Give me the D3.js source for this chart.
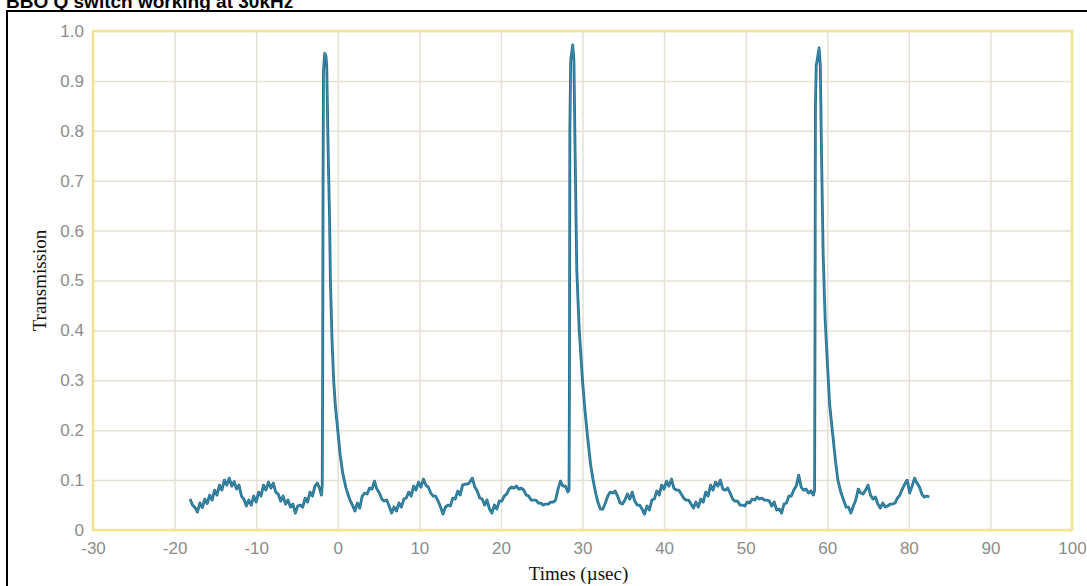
<!DOCTYPE html>
<html>
<head>
<meta charset="utf-8">
<script src="https://cdn.jsdelivr.net/npm/d3@7"></script>
<style>
  html, body { margin: 0; padding: 0; background: #fff; }
  svg { display: block; }
</style>
</head>
<body>
<svg id="chart" width="1087" height="586"></svg>
<script>
// tick labels as printed on the original (note the "80" where 70 would be)
const xTicks = [-30, -20, -10, 0, 10, 20, 30, 40, 50, 60, 70, 80, 90];
const xTickLabels = ['-30', '-20', '-10', '0', '10', '20', '30', '40', '50', '60', '80', '90', '100'];
const yTicks = [0, 0.1, 0.2, 0.3, 0.4, 0.5, 0.6, 0.7, 0.8, 0.9, 1.0];
const yTickLabels = ['0', '0.1', '0.2', '0.3', '0.4', '0.5', '0.6', '0.7', '0.8', '0.9', '1.0'];

// [time (usec), transmission]
const baseA = [[-18.1,0.062],[-17.8,0.050],[-17.5,0.045],[-17.2,0.036],[-16.9,0.054],[-16.6,0.045],[-16.3,0.062],[-16.0,0.053],
  [-15.7,0.070],[-15.4,0.060],[-15.1,0.080],[-14.8,0.070],[-14.5,0.090],[-14.2,0.080],[-13.9,0.100],[-13.6,0.090],[-13.3,0.104],
  [-13.0,0.088],[-12.7,0.097],[-12.4,0.082],[-12.1,0.090],[-11.8,0.068],[-11.5,0.062],[-11.2,0.048],[-10.9,0.060],[-10.6,0.050],
  [-10.3,0.068],[-10.0,0.056],[-9.7,0.076],[-9.4,0.068],[-9.1,0.090],[-8.8,0.080],[-8.5,0.096],[-8.2,0.084],[-7.9,0.094],
  [-7.6,0.076],[-7.3,0.072],[-7.0,0.058],[-6.7,0.068],[-6.4,0.052],[-6.1,0.060],[-5.8,0.046],[-5.5,0.052],[-5.2,0.034],
  [-4.9,0.048],[-4.6,0.050],[-4.3,0.046],[-4.0,0.064],[-3.7,0.056],[-3.4,0.076],[-3.1,0.068],[-2.8,0.088],[-2.5,0.094],
  [-2.2,0.082],[-2.0,0.070],[-1.9,0.090]];
const peak1 = [[-1.85,0.30],[-1.8,0.70],[-1.75,0.92],[-1.6,0.955],[-1.45,0.95],[-1.35,0.93],[-1.2,0.78],[-1.0,0.62],
  [-0.9,0.50],[-0.7,0.38],[-0.5,0.30],[-0.3,0.25],[0.0,0.20],[0.3,0.15],[0.6,0.115],[0.8,0.10],[1.0,0.085]];
const baseB = [[1.2,0.074],[1.5,0.060],[1.8,0.050],[2.1,0.038],[2.4,0.054],[2.7,0.044],[3.0,0.068],[3.3,0.074],[3.6,0.072],
  [3.9,0.084],[4.2,0.082],[4.5,0.098],[4.8,0.082],[5.1,0.074],[5.4,0.062],[5.7,0.058],[6.0,0.060],[6.3,0.048],[6.6,0.034],
  [6.9,0.046],[7.2,0.038],[7.5,0.054],[7.8,0.046],[8.1,0.062],[8.4,0.064],[8.7,0.076],[9.0,0.068],[9.3,0.088],[9.6,0.080],
  [9.9,0.096],[10.2,0.086],[10.5,0.102],[10.8,0.090],[11.1,0.086],[11.4,0.074],[11.7,0.068],[12.0,0.068],[12.3,0.058],
  [12.6,0.046],[12.9,0.032],[13.2,0.046],[13.5,0.050],[13.8,0.048],[14.1,0.064],[14.4,0.062],[14.7,0.078],[15.0,0.070],
  [15.3,0.090],[15.6,0.092],[15.9,0.092],[16.2,0.096],[16.5,0.104],[16.8,0.086],[17.1,0.078],[17.4,0.064],[17.7,0.062],
  [18.0,0.050],[18.3,0.060],[18.6,0.042],[18.9,0.034],[19.2,0.050],[19.5,0.042],[19.8,0.058],[20.1,0.058],[20.4,0.068],
  [20.7,0.072],[21.0,0.082],[21.3,0.086],[21.6,0.084],[21.9,0.088],[22.2,0.082],[22.5,0.084],[22.8,0.080],[23.1,0.070],
  [23.4,0.068],[23.7,0.060],[24.0,0.060],[24.3,0.060],[24.6,0.054],[24.9,0.054],[25.2,0.050],[25.5,0.052],[25.8,0.052],
  [26.1,0.056],[26.4,0.056],[26.7,0.060],[27.0,0.082],[27.3,0.098],[27.6,0.088],[27.9,0.088],[28.2,0.076],[28.35,0.080]];
const peak2 = [[28.4,0.30],[28.45,0.80],[28.55,0.94],[28.8,0.972],[28.95,0.94],[29.1,0.75],[29.3,0.52],[29.6,0.40],
  [30.0,0.30],[30.3,0.24],[30.6,0.19],[31.0,0.13],[31.3,0.10],[31.6,0.075]];
const baseC = [[31.9,0.055],[32.2,0.042],[32.5,0.042],[32.8,0.054],[33.1,0.068],[33.4,0.076],[33.7,0.074],[34.0,0.078],
  [34.3,0.068],[34.6,0.054],[34.9,0.052],[35.2,0.060],[35.5,0.072],[35.8,0.062],[36.1,0.076],[36.4,0.058],[36.7,0.050],
  [37.0,0.050],[37.3,0.042],[37.6,0.032],[37.9,0.048],[38.2,0.040],[38.5,0.060],[38.8,0.062],[39.1,0.078],[39.4,0.070],
  [39.7,0.090],[40.0,0.082],[40.3,0.098],[40.6,0.088],[40.9,0.102],[41.2,0.084],[41.5,0.080],[41.8,0.080],[42.1,0.072],
  [42.4,0.064],[42.7,0.060],[43.0,0.060],[43.3,0.052],[43.6,0.044],[43.9,0.056],[44.2,0.046],[44.5,0.062],[44.8,0.056],
  [45.1,0.076],[45.4,0.068],[45.7,0.090],[46.0,0.080],[46.3,0.096],[46.6,0.088],[46.9,0.100],[47.2,0.082],[47.5,0.080],
  [47.8,0.084],[48.1,0.074],[48.4,0.062],[48.7,0.058],[49.0,0.058],[49.3,0.050],[49.6,0.050],[49.9,0.048],[50.2,0.056],
  [50.5,0.054],[50.8,0.062],[51.1,0.060],[51.4,0.066],[51.7,0.062],[52.0,0.064],[52.3,0.060],[52.6,0.060],[52.9,0.058],
  [53.2,0.048],[53.5,0.056],[53.8,0.040],[54.1,0.042],[54.4,0.034],[54.7,0.052],[55.0,0.054],[55.3,0.068],[55.6,0.068],
  [55.9,0.080],[56.2,0.088],[56.5,0.110],[56.8,0.086],[57.1,0.080],[57.4,0.082],[57.7,0.074],[58.0,0.078],[58.3,0.070],
  [58.45,0.080]];
const peak3 = [[58.5,0.40],[58.55,0.85],[58.65,0.93],[59.0,0.966],[59.15,0.93],[59.3,0.75],[59.5,0.55],[59.75,0.42],
  [60.0,0.34],[60.3,0.25],[60.7,0.187],[61.0,0.14],[61.3,0.10],[61.7,0.074]];
const baseD = [[62.0,0.060],[62.3,0.046],[62.6,0.046],[62.9,0.034],[63.2,0.048],[63.5,0.060],[63.8,0.082],[64.1,0.074],
  [64.4,0.072],[64.7,0.080],[65.0,0.090],[65.3,0.070],[65.6,0.062],[65.9,0.066],[66.2,0.052],[66.5,0.044],[66.8,0.054],
  [67.1,0.046],[67.4,0.048],[67.7,0.052],[68.0,0.052],[68.3,0.054],[68.6,0.064],[68.9,0.070],[69.2,0.082],[69.5,0.092],
  [69.8,0.100],[70.1,0.074],[70.4,0.088],[70.7,0.104],[71.0,0.094],[71.3,0.086],[71.6,0.072],[71.9,0.066],[72.2,0.068],
  [72.5,0.066]];

const trace = [].concat(baseA, peak1, baseB, peak2, baseC, peak3, baseD);

const svg = d3.select('#chart');

// page frame from the original screenshot
svg.append('line').attr('x1', 7).attr('y1', 11).attr('x2', 1087).attr('y2', 11)
  .attr('stroke', '#000').attr('stroke-width', 2);
svg.append('line').attr('x1', 7).attr('y1', 10).attr('x2', 7).attr('y2', 586)
  .attr('stroke', '#000').attr('stroke-width', 2);

svg.append('text')
  .attr('x', 6).attr('y', 8)
  .attr('font-family', 'Liberation Sans, Arial, sans-serif')
  .attr('font-weight', 'bold')
  .attr('font-size', 19)
  .attr('fill', '#000')
  .text('BBO Q switch working at 30kHz');

const margin = {left: 93, top: 31, right: 1087 - 1072, bottom: 586 - 530};
const width = 1087 - margin.left - margin.right;
const height = 586 - margin.top - margin.bottom;

const x = d3.scaleLinear().domain([-30, 90]).range([0, width]);
const y = d3.scaleLinear().domain([0, 1]).range([height, 0]);

const g = svg.append('g').attr('transform', 'translate(' + margin.left + ',' + margin.top + ')');

// grid
g.append('g')
  .attr('class', 'xgrid')
  .attr('transform', 'translate(0,' + height + ')')
  .call(d3.axisBottom(x).tickValues(xTicks).tickSize(-height).tickFormat(''))
  .call(a => a.select('.domain').remove())
  .call(a => a.selectAll('line').attr('stroke', '#e6e1d5').attr('stroke-width', 1.5));

g.append('g')
  .attr('class', 'ygrid')
  .call(d3.axisLeft(y).tickValues(yTicks).tickSize(-width).tickFormat(''))
  .call(a => a.select('.domain').remove())
  .call(a => a.selectAll('line').attr('stroke', '#e6e1d5').attr('stroke-width', 1.5));

// plot frame
g.append('rect')
  .attr('x', 0).attr('y', 0).attr('width', width).attr('height', height)
  .attr('fill', 'none').attr('stroke', '#f2e38e').attr('stroke-width', 2.5);

// tick labels
g.append('g')
  .attr('transform', 'translate(0,' + height + ')')
  .call(d3.axisBottom(x).tickValues(xTicks).tickSize(0).tickPadding(12)
    .tickFormat((d, i) => xTickLabels[i]))
  .call(a => a.select('.domain').remove())
  .call(a => a.selectAll('text').attr('fill', '#8c8c8c')
    .attr('font-family', 'Liberation Sans, Arial, sans-serif').attr('font-size', 17));

g.append('g')
  .call(d3.axisLeft(y).tickValues(yTicks).tickSize(0).tickPadding(9)
    .tickFormat((d, i) => yTickLabels[i]))
  .call(a => a.select('.domain').remove())
  .call(a => a.selectAll('text').attr('fill', '#8c8c8c')
    .attr('font-family', 'Liberation Sans, Arial, sans-serif').attr('font-size', 17));

// trace
const line = d3.line()
  .x(d => x(d[0]))
  .y(d => y(d[1]));

g.append('path')
  .datum(trace)
  .attr('fill', 'none')
  .attr('stroke', '#1f6f8f')
  .attr('stroke-width', 2.8)
  .attr('stroke-linejoin', 'round')
  .attr('d', line);

g.append('path')
  .datum(trace)
  .attr('fill', 'none')
  .attr('stroke', '#6aaec6')
  .attr('stroke-width', 0.7)
  .attr('stroke-opacity', 0.7)
  .attr('d', line);

// axis titles
svg.append('text')
  .attr('transform', 'translate(46,' + (margin.top + height / 2) + ') rotate(-90)')
  .attr('text-anchor', 'middle')
  .attr('font-family', 'Liberation Serif, Times New Roman, serif')
  .attr('font-size', 19)
  .attr('fill', '#111')
  .text('Transmission');

svg.append('text')
  .attr('x', margin.left + width / 2 - 4)
  .attr('y', 580)
  .attr('text-anchor', 'middle')
  .attr('font-family', 'Liberation Serif, Times New Roman, serif')
  .attr('font-size', 19)
  .attr('fill', '#111')
  .text('Times (µsec)');
</script>
</body>
</html>
